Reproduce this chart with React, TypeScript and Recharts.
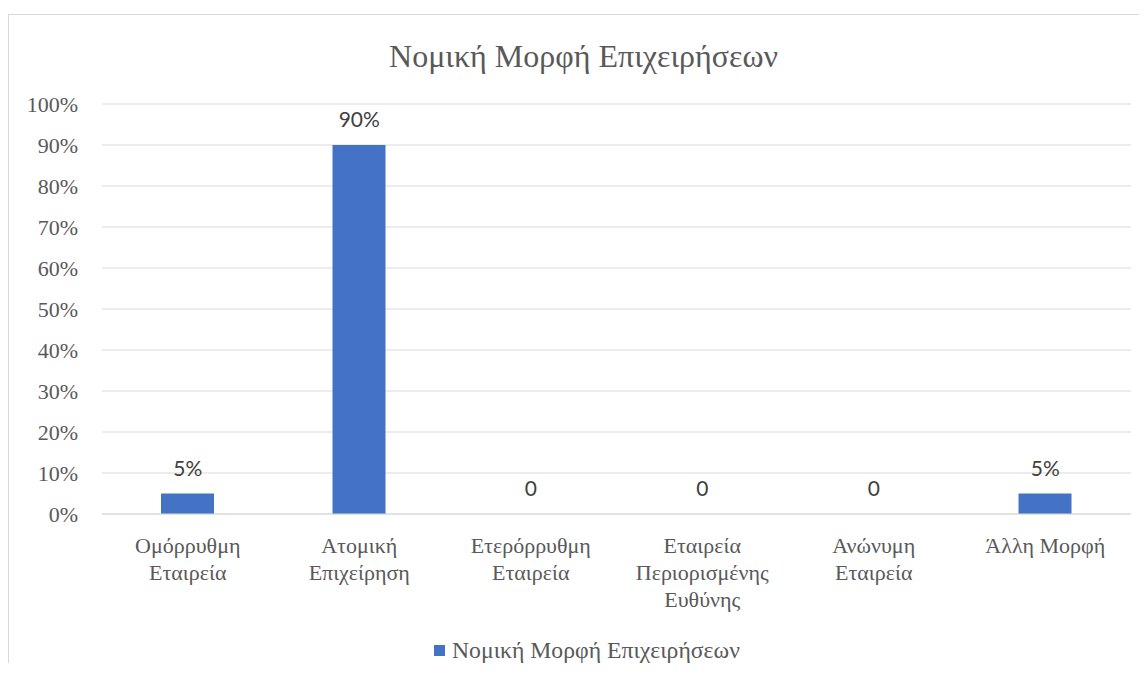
import { ComposedChart, Bar, Line, XAxis, YAxis, CartesianGrid, Legend, LabelList } from 'recharts';

const categories = [
    'Ομόρρυθμη Εταιρεία',
    'Ατομική Επιχείρηση',
    'Ετερόρρυθμη Εταιρεία',
    'Εταιρεία Περιορισμένης Ευθύνης',
    'Ανώνυμη Εταιρεία',
    'Άλλη Μορφή'
];
const shares = [5, 90, 0, 0, 0, 5];
const yTicks = [0, 10, 20, 30, 40, 50, 60, 70, 80, 90, 100];
const title = 'Νομική Μορφή Επιχειρήσεων';
const seriesName = 'Νομική Μορφή Επιχειρήσεων';

const data = categories.map((name, i) => ({ name, value: shares[i] }));

const serif = '"Liberation Serif", "Times New Roman", serif';
const sans = 'Lato, "Liberation Sans", sans-serif';
const textGray = '#595959';
const gridGray = '#d9d9d9';
const barBlue = '#4472C4';

// greedy word wrap using canvas measurement
let ctx: CanvasRenderingContext2D | null = null;
const wrapWords = (str: string, font: string, maxWidth: number) => {
    if (!ctx) ctx = document.createElement('canvas').getContext('2d');
    if (!ctx) return [str];
    ctx.font = font;
    const words = str.split(' ');
    const lines: string[] = [];
    let cur = '';
    words.forEach((w) => {
        const test = cur ? cur + ' ' + w : w;
        if (cur && ctx!.measureText(test).width > maxWidth) {
            lines.push(cur);
            cur = w;
        } else {
            cur = test;
        }
    });
    if (cur) lines.push(cur);
    return lines;
};

const CategoryTick = (props: any) => {
    const { x, y, payload } = props;
    const lines = wrapWords(String(payload.value), '22px "Liberation Serif"', 150);
    return (
        <text x={x} y={y} textAnchor="middle" fill={textGray} style={{ fontSize: 22, fontFamily: serif }}>
            {lines.map((l, i) => (
                <tspan key={i} x={x} dy={i === 0 ? 15 : 27}>
                    {l}
                </tspan>
            ))}
        </text>
    );
};

const LegendBox = (props: any) => {
    const item = props.payload && props.payload.find((p: any) => p.type !== 'none');
    return (
        <div style={{ display: 'flex', alignItems: 'center', height: 26 }}>
            <span style={{ width: 11, height: 11, background: item ? item.color : barBlue, marginRight: 7 }} />
            <span style={{ fontFamily: serif, fontSize: 23.7, color: textGray, whiteSpace: 'nowrap' }}>{seriesName}</span>
        </div>
    );
};

export default function App() {
    return (
        <div
            style={{
                position: 'relative',
                top: 6,
                width: 1139,
                height: 655,
                borderTop: '1px solid ' + gridGray,
                borderLeft: '1px solid ' + gridGray,
                boxSizing: 'border-box',
                background: '#fff'
            }}
        >
            <div
                style={{
                    position: 'absolute',
                    left: 0,
                    top: 25,
                    width: 1149,
                    textAlign: 'center',
                    fontFamily: serif,
                    fontSize: 32,
                    lineHeight: '32px',
                    color: textGray
                }}
            >
                {title}
            </div>
            <ComposedChart
                width={1138}
                height={654}
                data={data}
                margin={{ top: 89, right: 16, left: 0, bottom: 0 }}
            >
                <CartesianGrid vertical={false} stroke={gridGray} />
                <XAxis
                    dataKey="name"
                    interval={0}
                    height={155}
                    tickSize={0}
                    tickMargin={24}
                    axisLine={{ stroke: gridGray }}
                    tickLine={false}
                    tick={<CategoryTick />}
                />
                <YAxis
                    domain={[0, 100]}
                    ticks={yTicks}
                    width={93}
                    tickSize={0}
                    tickMargin={24}
                    axisLine={false}
                    tickLine={false}
                    tickFormatter={(v) => v + '%'}
                    tick={{ fontSize: 22, fontFamily: serif, fill: textGray }}
                />
                <Legend
                    layout="horizontal"
                    verticalAlign="middle"
                    align="center"
                    wrapperStyle={{ top: 622, left: 425, width: 'auto' }}
                    content={<LegendBox />}
                />
                <Bar dataKey="value" name={seriesName} fill={barBlue} barSize={53} isAnimationActive={false} />
                {/* invisible carrier for the data labels, so zero values get a label too */}
                <Line
                    dataKey="value"
                    stroke="none"
                    dot={false}
                    activeDot={false}
                    legendType="none"
                    isAnimationActive={false}
                >
                    <LabelList
                        dataKey="value"
                        position="top"
                        offset={18}
                        formatter={(v: any) => (v === 0 ? '0' : v + '%')}
                        style={{ fontFamily: sans, fontSize: 21, fill: '#404040' }}
                    />
                </Line>
            </ComposedChart>
        </div>
    );
}
